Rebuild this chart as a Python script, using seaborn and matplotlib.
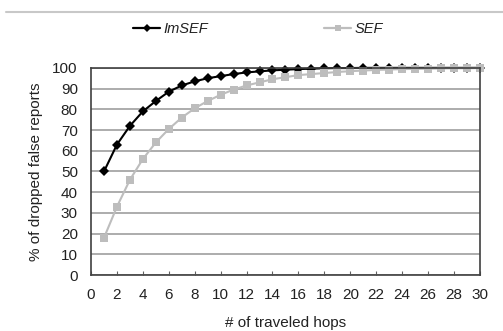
import matplotlib
matplotlib.use("Agg")
import matplotlib.pyplot as plt
import seaborn as sns
import pandas as pd
from matplotlib.lines import Line2D

hops = list(range(1, 31))
imsef = [50, 63, 72, 79, 84, 88.5, 91.5, 93.5, 95, 96, 97, 97.8, 98.3, 98.8, 99.1,
         99.4, 99.6, 99.8, 99.9, 99.9, 100, 100, 100, 100, 100, 100, 100, 100, 100, 100]
sef = [18, 33, 46, 56, 64, 70.5, 76, 80.5, 84, 87, 89.5, 91.5, 93, 94.5, 95.5,
       96.5, 97, 97.5, 98, 98.4, 98.7, 99, 99.2, 99.4, 99.5, 99.6, 99.7, 99.8, 99.8, 99.9]
series_names = ["ImSEF", "SEF"]
x_ticks = list(range(0, 31, 2))
y_ticks = list(range(0, 101, 10))

df = pd.DataFrame({
    "hops": hops * 2,
    "value": imsef + sef,
    "series": [series_names[0]] * len(hops) + [series_names[1]] * len(hops),
})

sns.set_theme(style="white")
plt.rcParams["font.family"] = ["Liberation Sans", "DejaVu Sans"]

fig = plt.figure(figsize=(5.03, 3.31), dpi=100)
ax = fig.add_axes([0.181, 0.169, 0.773, 0.626])

sns.lineplot(data=df, x="hops", y="value", hue="series", style="series",
             markers={"ImSEF": "D", "SEF": "s"}, dashes=False,
             palette={"ImSEF": "#000000", "SEF": "#bdbdbd"},
             markersize=5.5, linewidth=1.5, markeredgewidth=0, ax=ax, legend=False)
for ln in ax.lines:
    ln.set_clip_on(False)

ax.set_xlim(0, 30)
ax.set_ylim(0, 100)
ax.set_xticks(x_ticks)
ax.set_yticks(y_ticks)
ax.yaxis.grid(True, color="#a6a6a6", linewidth=1.3)
ax.xaxis.grid(False)
ax.set_axisbelow(True)
for s in ax.spines.values():
    s.set_color("#404040")
    s.set_linewidth(1.2)
ax.tick_params(axis="x", direction="in", length=3, width=0.8, color="#606060",
               labelsize=11, labelcolor="#222222", pad=9.5, bottom=True)
ax.tick_params(axis="y", length=0, labelsize=11, labelcolor="#222222", pad=9.5)
ax.set_xlabel("# of traveled hops", fontsize=11, color="#222222", labelpad=10)
ax.set_ylabel("% of dropped false reports", fontsize=11, color="#222222", labelpad=7)

h1 = Line2D([], [], color="#000000", marker="D", markersize=4, linewidth=1.6, markeredgewidth=0)
h2 = Line2D([], [], color="#bdbdbd", marker="s", markersize=4, linewidth=1.6, markeredgewidth=0)
leg = fig.legend([h1, h2], series_names, loc="center", bbox_to_anchor=(0.513, 0.912),
                 ncol=2, frameon=False, columnspacing=8.0, handlelength=1.85,
                 handletextpad=0.2, prop={"size": 10.5, "style": "italic"})
for t in leg.get_texts():
    t.set_color("#222222")

fig.add_artist(Line2D([0.012, 1.0], [0.963, 0.963], color="#c8c8c8", linewidth=1.5,
                      transform=fig.transFigure))

fig.savefig("out.png", dpi=100)
